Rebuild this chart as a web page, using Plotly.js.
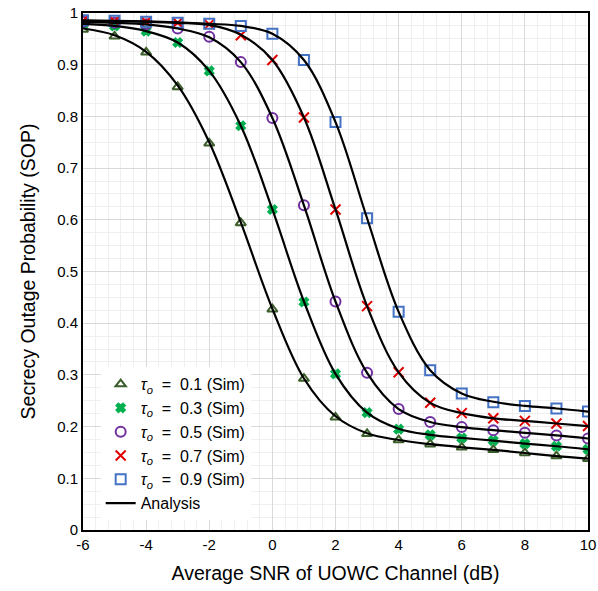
<!DOCTYPE html>
<html><head><meta charset="utf-8">
<script src="https://cdn.plot.ly/plotly-3.0.1.min.js"></script>
<style>html,body{margin:0;padding:0;background:#fff}#chart{width:598px;height:591px}</style>
</head><body><div id="chart"></div>
<script>
const snr = [-6,-5,-4,-3,-2,-1,0,1,2,3,4,5,6,7,8,9,10];
const xTickVals = [-6,-4,-2,0,2,4,6,8,10];
const xTickText = ["-6","-4","-2","0","2","4","6","8","10"];
const yTickVals = [0,0.1,0.2,0.3,0.4,0.5,0.6,0.7,0.8,0.9,1];
const yTickText = ["0","0.1","0.2","0.3","0.4","0.5","0.6","0.7","0.8","0.9","1"];
const tauLabels = ["0.1","0.3","0.5","0.7","0.9"];
const sim01 = [0.968,0.955,0.924,0.857,0.748,0.594,0.427,0.293,0.218,0.186,0.174,0.166,0.160,0.155,0.149,0.143,0.138];
const sim03 = [0.978,0.975,0.965,0.943,0.888,0.782,0.620,0.441,0.302,0.227,0.195,0.184,0.178,0.173,0.167,0.162,0.156];
const sim05 = [0.983,0.981,0.978,0.970,0.954,0.905,0.797,0.628,0.442,0.304,0.234,0.209,0.199,0.193,0.188,0.183,0.177];
const sim07 = [0.985,0.984,0.983,0.981,0.978,0.957,0.909,0.798,0.620,0.433,0.305,0.246,0.226,0.216,0.211,0.206,0.201];
const sim09 = [0.986,0.985,0.983,0.981,0.979,0.975,0.960,0.909,0.789,0.603,0.422,0.309,0.264,0.247,0.240,0.235,0.229];
const ana01 = [0.970,0.957,0.925,0.860,0.750,0.595,0.428,0.293,0.220,0.187,0.174,0.166,0.160,0.155,0.149,0.143,0.138];
const ana03 = [0.979,0.975,0.965,0.943,0.888,0.782,0.620,0.442,0.302,0.227,0.196,0.184,0.178,0.173,0.167,0.162,0.156];
const ana05 = [0.983,0.981,0.978,0.970,0.953,0.905,0.797,0.628,0.442,0.304,0.234,0.209,0.199,0.193,0.188,0.183,0.177];
const ana07 = [0.985,0.984,0.983,0.981,0.977,0.958,0.909,0.798,0.620,0.433,0.305,0.246,0.226,0.216,0.211,0.206,0.201];
const ana09 = [0.986,0.985,0.984,0.982,0.979,0.975,0.960,0.909,0.789,0.603,0.422,0.309,0.264,0.248,0.240,0.235,0.229];

const sims = [sim01,sim03,sim05,sim07,sim09];
const anas = [ana01,ana03,ana05,ana07,ana09];
const colors = ["#3b5e2b","#00b050","#7030a0","#e00000","#4472c4"];
const symbols = ["triangle-up-open","x","circle-open","x-thin-open","square-open"];
const sizes = [9,8,10,10,10];
const lw = [2,1.5,2,2,2];

const traces = [];
anas.forEach((a,i)=>{
  traces.push({x:snr,y:a,mode:'lines',type:'scatter',line:{color:'#000',width:2.2,shape:'spline',smoothing:1},
    name:'Analysis',legendgroup:'ana',showlegend:i===0,hoverinfo:'skip'});
});
const simTraces = sims.map((s,i)=>({x:snr,y:s,mode:'markers',type:'scatter',
  name:'<i>τ<sub>o</sub></i>  =  '+tauLabels[i]+' (Sim)',
  marker:{symbol:symbols[i],color:colors[i],size:sizes[i],line:{color:colors[i],width:lw[i]}}}));
const data = simTraces.concat(traces);

const layout = {
  width:598,height:591,
  margin:{l:83,r:10,t:13,b:61},
  paper_bgcolor:'#fff',plot_bgcolor:'#fff',
  font:{family:'Liberation Sans, Arial, sans-serif',color:'#000'},
  showlegend:true,
  legend:{x:0.035,y:0.315,xanchor:'left',yanchor:'top',bgcolor:'#fff',borderwidth:0,
    font:{size:16,color:'#000'},tracegroupgap:0,itemwidth:30,traceorder:'normal'},
  xaxis:{range:[-6,10],tickmode:'array',tickvals:xTickVals,ticktext:xTickText,showline:true,linecolor:'#000',linewidth:2,mirror:true,
    ticks:'',tickfont:{size:15},gridcolor:'#d9d9d9',gridwidth:1,zeroline:false,
    minor:{dtick:0.4,tick0:-6,showgrid:true,gridcolor:'#efefef',gridwidth:1},
    title:{text:'Average SNR of UOWC Channel (dB)',font:{size:19.5},standoff:14}},
  yaxis:{range:[0,1],tickmode:'array',tickvals:yTickVals,ticktext:yTickText,showline:true,linecolor:'#000',linewidth:2,mirror:true,
    ticks:'',tickfont:{size:15},gridcolor:'#d9d9d9',gridwidth:1,zeroline:false,
    minor:{dtick:0.025,tick0:0,showgrid:true,gridcolor:'#efefef',gridwidth:1},
    title:{text:'Secrecy Outage Probability (SOP)',font:{size:19.5},standoff:16}}
};
Plotly.newPlot('chart',data,layout,{displayModeBar:false,staticPlot:true});
</script></body></html>
